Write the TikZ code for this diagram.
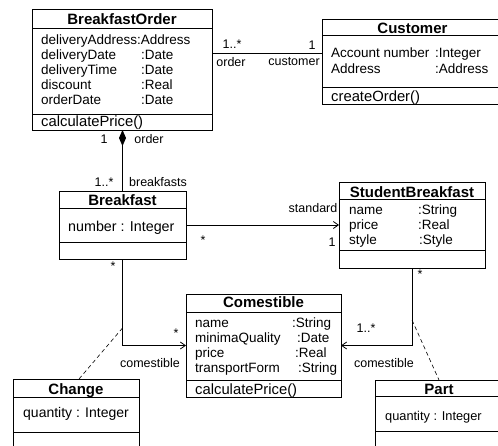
\documentclass[tikz,border=0pt]{standalone}
\usepackage{fontspec}
\setmainfont{Liberation Sans}
\usetikzlibrary{arrows.meta,calc}
\begin{document}
\begin{tikzpicture}[x=1pt,y=-1pt,
  box/.style={draw, line width=0.8pt, anchor=north west, inner sep=0pt, outer sep=0pt},
  title/.style={font=\fontsize{15}{15}\selectfont\bfseries, anchor=base, inner sep=0pt},
  attr/.style={font=\fontsize{13.5}{15}\selectfont, anchor=base west, inner sep=0pt},
  meth/.style={font=\fontsize{14.8}{15}\selectfont, anchor=base west, inner sep=0pt},
  lbl/.style={font=\fontsize{12.5}{14}\selectfont, inner sep=0pt},
  sep/.style={line width=0.8pt},
  assoc/.style={line width=0.8pt},
  nav/.style={assoc, -{Straight Barb[length=5pt,width=7pt]}},
  link/.style={line width=0.6pt, dash pattern=on 4pt off 3pt}]
\clip (0,0) rectangle (498,445);
\fill[white] (0,0) rectangle (498,445);

% ---------- BreakfastOrder ----------
\node[box, minimum width=180pt, minimum height=121pt] (bo) at (32,9) {};
\draw[sep] (bo.north west) ++(0,19) -- ++(180,0);
\draw[sep] (bo.north west) ++(0,105) -- ++(180,0);
\node[title] (bot) at (122,24) {BreakfastOrder};
\node[attr] (bo1) at (41,44.5) {deliveryAddress:Address};
\node[attr] (bo2) at (41,59.5) {deliveryDate};
\node[attr] (bo2t) at (141,59.5) {:Date};
\node[attr] (bo3) at (41,74.5) {deliveryTime};
\node[attr] (bo3t) at (141,74.5) {:Date};
\node[attr] (bo4) at (41,89.5) {discount};
\node[attr] (bo4t) at (141,89.5) {:Real};
\node[attr] (bo5) at (41,104.5) {orderDate};
\node[attr] (bo5t) at (141,104.5) {:Date};
\node[meth] (bom) at (41,126.5) {calculatePrice()};

% ---------- Customer ----------
\node[box, minimum width=181pt, minimum height=85pt] (cu) at (322,19) {};
\draw[sep] (cu.north west) ++(0,16) -- ++(181,0);
\draw[sep] (cu.north west) ++(0,68) -- ++(181,0);
\node[title] (cut) at (412.5,33) {Customer};
\node[attr] (cu1) at (331,57.5) {Account number};
\node[attr] (cu1t) at (435,57.5) {:Integer};
\node[attr] (cu2) at (331,73.5) {Address};
\node[attr] (cu2t) at (435,73.5) {:Address};
\node[meth] (cum) at (331,101.5) {createOrder()};

% ---------- Breakfast ----------
\node[box, minimum width=127pt, minimum height=68pt] (br) at (59,191) {};
\draw[sep] (br.north west) ++(0,17) -- ++(127,0);
\draw[sep] (br.north west) ++(0,51) -- ++(127,0);
\node[title] (brt) at (122.5,205) {Breakfast};
\node[attr, font=\fontsize{14.3}{15}\selectfont] (br1) at (68,231) {number : Integer};

% ---------- StudentBreakfast ----------
\node[box, minimum width=146pt, minimum height=86pt] (sb) at (339,182) {};
\draw[sep] (sb.north west) ++(0,17) -- ++(146,0);
\draw[sep] (sb.north west) ++(0,68) -- ++(146,0);
\node[title] (sbt) at (412,197) {StudentBreakfast};
\node[attr] (sb1) at (349,214.5) {name};
\node[attr] (sb1t) at (418,214.5) {:String};
\node[attr] (sb2) at (349,229.5) {price};
\node[attr] (sb2t) at (418,229.5) {:Real};
\node[attr] (sb3) at (349,244.5) {style};
\node[attr] (sb3t) at (419,244.5) {:Style};

% ---------- Comestible ----------
\node[box, minimum width=155pt, minimum height=103pt] (co) at (186,294) {};
\draw[sep] (co.north west) ++(0,18) -- ++(155,0);
\draw[sep] (co.north west) ++(0,86) -- ++(155,0);
\node[title] (cot) at (263.5,307) {Comestible};
\node[attr] (co1) at (195,327.5) {name};
\node[attr] (co1t) at (292,327.5) {:String};
\node[attr] (co2) at (195,342.5) {minimaQuality};
\node[attr] (co2t) at (297,342.5) {:Date};
\node[attr] (co3) at (195,357.5) {price};
\node[attr] (co3t) at (295,357.5) {:Real};
\node[attr] (co4) at (195,372.5) {transportForm};
\node[attr] (co4t) at (298,372.5) {:String};
\node[meth] (com) at (195,394.5) {calculatePrice()};

% ---------- Change ----------
\node[box, minimum width=126pt, minimum height=80pt] (ch) at (13,379) {};
\draw[sep] (ch.north west) ++(0,18) -- ++(126,0);
\draw[sep] (ch.north west) ++(0,53) -- ++(126,0);
\node[title] (cht) at (76,394) {Change};
\node[attr, font=\fontsize{14}{15}\selectfont] (ch1) at (23,417.5) {quantity : Integer};

% ---------- Part ----------
\node[box, minimum width=128pt, minimum height=80pt] (pa) at (375,380) {};
\draw[sep] (pa.north west) ++(0,16) -- ++(128,0);
\draw[sep] (pa.north west) ++(0,51) -- ++(128,0);
\node[title] (pat) at (439,394) {Part};
\node[attr, font=\fontsize{12.8}{15}\selectfont] (pa1) at (385,420) {quantity : Integer};

% ---------- associations ----------
\coordinate (a1) at (0,53);
\draw[assoc] (bo.east |- a1) -- (cu.west |- a1);
\node[lbl] (m1) at (232,44) {1..*};
\node[lbl] (r1) at (231,62) {order};
\node[lbl] (m2) at (312,45) {1};
\node[lbl] (r2) at (294,62) {customer};

\draw[assoc, {Diamond[length=16pt,width=7pt]}-] (br.north |- bo.south) -- (br.north);
\node[lbl] (m3) at (104,139) {1};
\node[lbl] (r3) at (149,139) {order};
\node[lbl] (m4) at (104,182) {1..*};
\node[lbl] (r4) at (158,182) {breakfasts};

\draw[nav] (br.east) -- (br.east -| sb.west);
\node[lbl] (r5) at (313,208) {standard};
\node[lbl] (m5) at (332,242) {1};
\node[lbl] (m6) at (203,240) {*};

\draw[nav] (br.south) |- (co.west);
\node[lbl] (m7) at (113,266) {*};
\node[lbl] (m8) at (176,333) {*};
\node[lbl] (r6) at (150,363) {comestible};

\draw[nav] (sb.south) |- (co.east);
\node[lbl] (m9) at (420,274) {*};
\node[lbl] (m10) at (366,328) {1..*};
\node[lbl] (r7) at (384,363) {comestible};

% ---------- association classes ----------
\coordinate (j1) at (122.5,328);
\draw[link] (j1) -- ($(ch.north west)+(66,0)$);
\coordinate (j2) at (412,320);
\draw[link] (j2) -- (pa.north);
\end{tikzpicture}
\end{document}
